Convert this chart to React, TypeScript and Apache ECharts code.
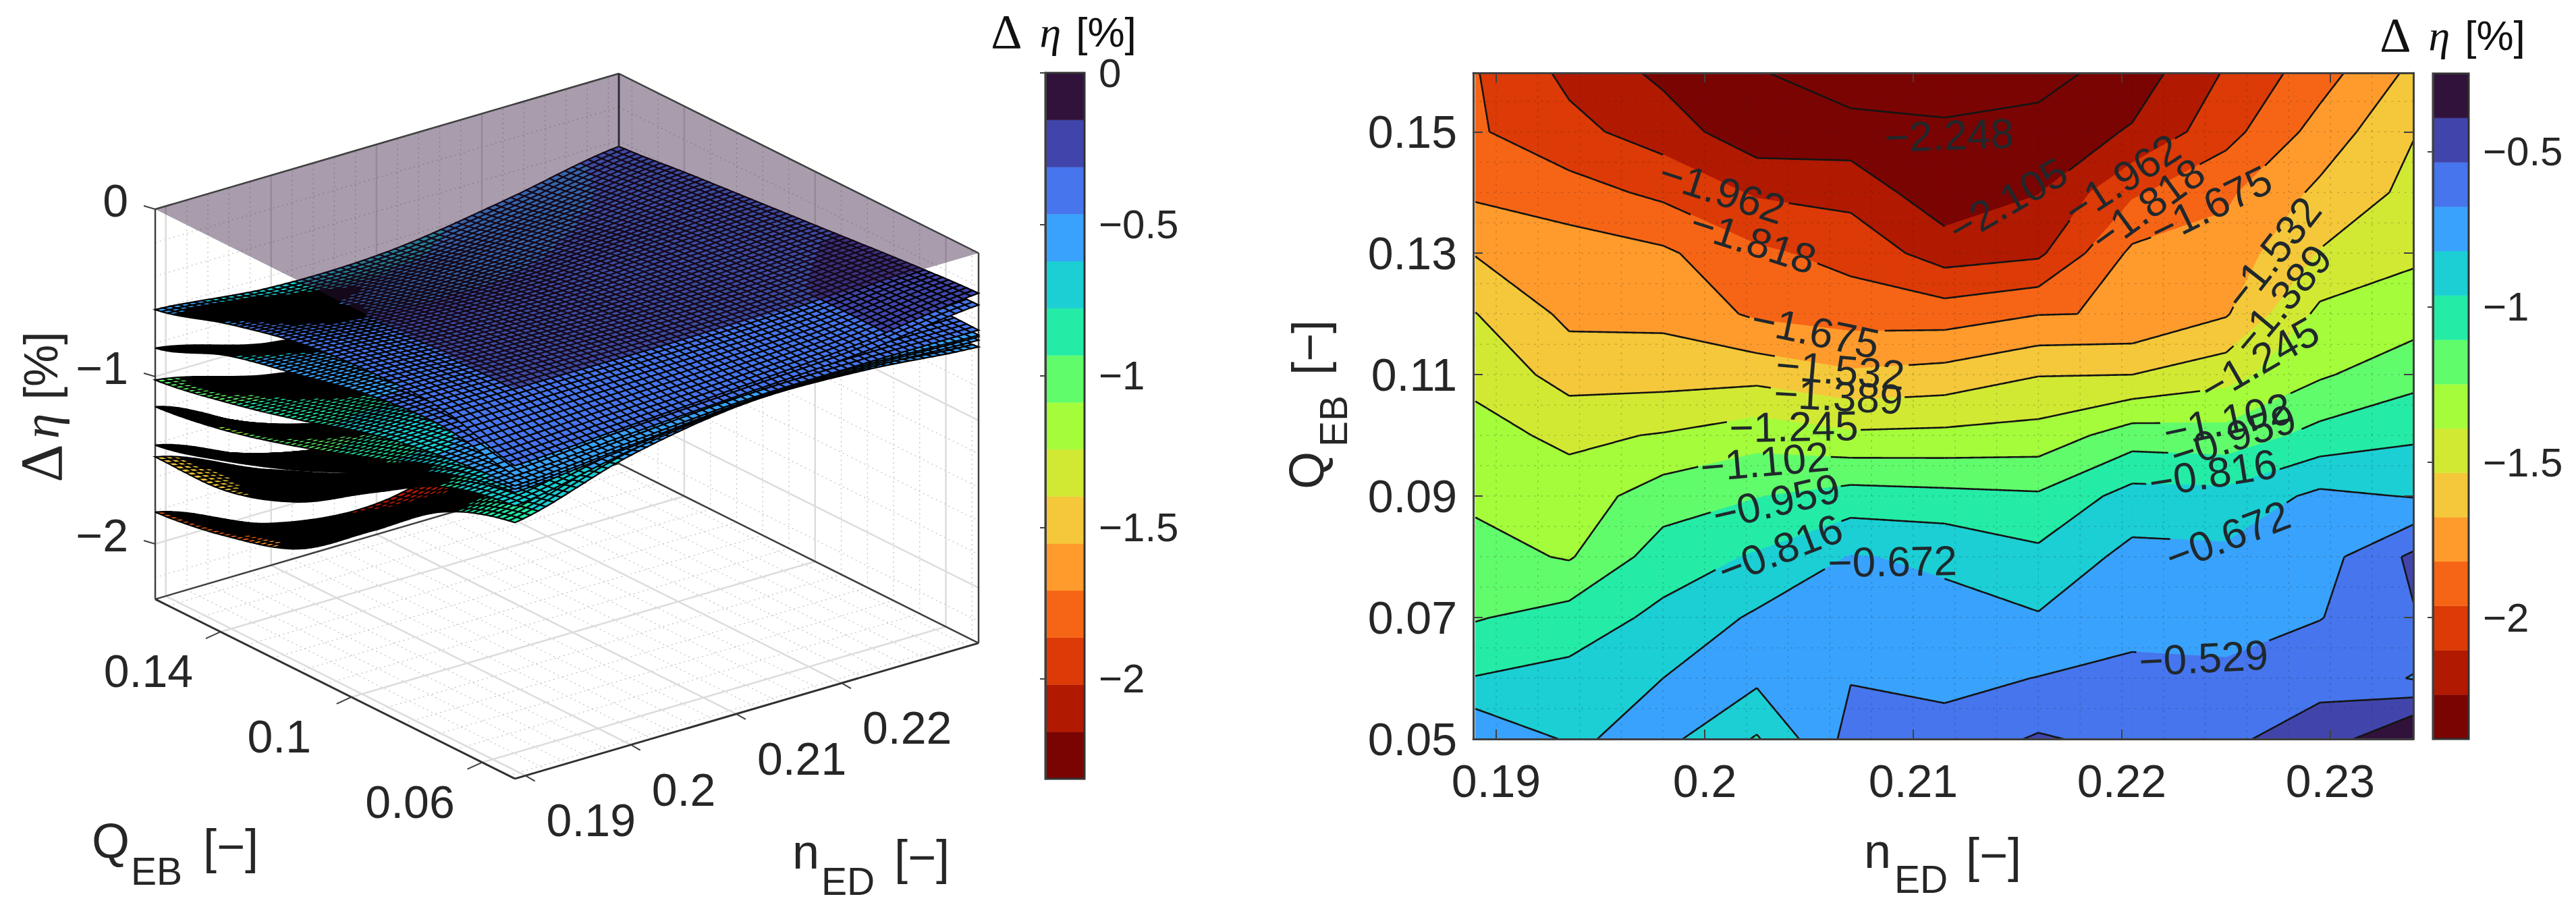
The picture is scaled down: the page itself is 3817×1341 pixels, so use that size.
import React, { useEffect, useRef } from "react";
import * as echarts from "echarts";

const SANS = "'Liberation Sans', Arial, sans-serif";
const SERIF = "'Liberation Serif', serif";
const INK = "#262626";

/* ---------- colours (low to high) ---------- */
const BAND_COLORS = ["#7a0402", "#b11901", "#dc3a06", "#f66516", "#ff9b2c", "#f4c83a", "#d2e934", "#a4fc3b", "#61fc6c", "#24eca6", "#1bcfd4", "#39a2fc", "#4675ed", "#4145ab", "#30123b"];

/* ---------- right panel: contour table ---------- */
const N_ED = [0.189, 0.1935, 0.198, 0.2025, 0.207, 0.2115, 0.216, 0.2205, 0.225, 0.2295, 0.234];
const Q_EB = [0.05, 0.06, 0.07, 0.08, 0.09, 0.1, 0.11, 0.12, 0.13, 0.14, 0.15, 0.16];
/* one list per n_ED column, from Q_EB = 0.05 to 0.16 */
const COL0 = [-0.535, -0.81, -0.97, -1.05, -1.13, -1.2, -1.28, -1.385, -1.54, -1.7, -1.8, -1.81];
const COL1 = [-0.69, -0.77, -0.9, -1.115, -1.18, -1.275, -1.45, -1.565, -1.6, -1.76, -1.92, -2.0];
const COL2 = [-0.63, -0.672, -0.78, -0.89, -1.03, -1.235, -1.45, -1.57, -1.65, -1.85, -2.03, -2.14];
const COL3 = [-0.83, -0.642, -0.65, -0.8, -0.965, -1.16, -1.44, -1.7, -1.79, -1.98, -2.2, -2.24];
const COL4 = [-0.48, -0.535, -0.59, -0.665, -0.9, -1.22, -1.51, -1.74, -1.866, -2.01, -2.19, -2.34];
const COL5 = [-0.47, -0.57, -0.64, -0.69, -0.92, -1.21, -1.48, -1.745, -2.03, -2.2, -2.22, -2.34];
const COL6 = [-0.37, -0.525, -0.66, -0.78, -0.94, -1.19, -1.395, -1.68, -1.99, -2.11, -2.2, -2.3];
const COL7 = [-0.43, -0.49, -0.58, -0.63, -0.76, -1.03, -1.389, -1.668, -1.645, -1.84, -2.09, -2.19];
const COL8 = [-0.4, -0.5, -0.585, -0.64, -0.77, -1.05, -1.3, -1.545, -1.62, -1.7, -1.87, -1.95];
const COL9 = [-0.35, -0.41, -0.535, -0.59, -0.64, -0.91, -1.12, -1.21, -1.38, -1.5, -1.62, -1.74];
const COL10 = [-0.05, -0.54, -0.395, -0.355, -0.68, -0.84, -1.01, -1.17, -1.27, -1.35, -1.395, -1.5];
const COLUMNS = [COL0, COL1, COL2, COL3, COL4, COL5, COL6, COL7, COL8, COL9, COL10];

const LEVELS = [-2.248, -2.105, -1.962, -1.818, -1.675, -1.532, -1.389, -1.245, -1.102, -0.959, -0.816, -0.672, -0.529, -0.386, -0.243];
const BAND_EDGES = LEVELS.slice(1);

const LABEL_LEVEL = [-2.248, -2.105, -1.962, -1.818, -1.675, -1.532, -1.389, -1.245, -1.102, -0.959, -0.816, -0.672, -1.962, -1.818, -1.675, -1.532, -1.389, -1.245, -1.102, -0.959, -0.816, -0.672, -0.529];
const LABEL_N = [0.21172, 0.21453, 0.20084, 0.20233, 0.20531, 0.2065, 0.20641, 0.20427, 0.20288, 0.20343, 0.20362, 0.209, 0.22, 0.22123, 0.22427, 0.22722, 0.22767, 0.2266, 0.22505, 0.22534, 0.22437, 0.22508, 0.22392];
const LABEL_Q = [0.14944, 0.13867, 0.14022, 0.132, 0.11711, 0.11078, 0.10644, 0.10144, 0.09567, 0.08911, 0.08122, 0.07922, 0.14222, 0.13789, 0.13789, 0.13, 0.12233, 0.11244, 0.10256, 0.09978, 0.09378, 0.08344, 0.06333];
const LABEL_ROT = [2, 30, -18, -18, -12, -5, -3, 1, 5, 13, 21, 1, 33, 36, 26, 52, 50, 30, 12, 18, 9, 21, 3];

const X_TICKS = [0.19, 0.2, 0.21, 0.22, 0.23];
const Y_TICKS = [0.05, 0.07, 0.09, 0.11, 0.13, 0.15];
const BAR_RIGHT_TICKS = [-0.5, -1, -1.5, -2];
const BAR_LEFT_TICKS = [0, -0.5, -1, -1.5, -2];
const BAR_RIGHT_RANGE = [-2.391, -0.248];
const BAR_LEFT_RANGE = [-2.33, 0];

/* ---------- left panel: surfaces, rows from Q_EB high to low, columns from n_ED low to high ---------- */
const S1 = [
  [-0.6, -0.67, -0.66, -0.56, -0.435],
  [-0.47, -0.54, -0.54, -0.47, -0.39],
  [-0.37, -0.42, -0.43, -0.39, -0.35],
  [-0.33, -0.36, -0.37, -0.35, -0.31],
  [-0.34, -0.34, -0.34, -0.32, -0.27],
  [-0.46, -0.42, -0.38, -0.33, -0.24],
];
const S2 = [
  [-0.83, -1.0, -1.02, -0.86, -0.62],
  [-0.66, -0.74, -0.75, -0.66, -0.5],
  [-0.56, -0.57, -0.57, -0.51, -0.43],
  [-0.47, -0.46, -0.45, -0.42, -0.37],
  [-0.44, -0.41, -0.4, -0.37, -0.33],
  [-0.52, -0.47, -0.43, -0.39, -0.31],
];
const S3 = [
  [-1.02, -1.19, -1.25, -1.05, -0.8],
  [-0.94, -1.0, -1.0, -0.85, -0.68],
  [-0.83, -0.82, -0.78, -0.68, -0.58],
  [-0.7, -0.65, -0.6, -0.55, -0.5],
  [-0.62, -0.54, -0.49, -0.47, -0.46],
  [-0.58, -0.52, -0.47, -0.46, -0.46],
];
const S4 = [
  [-1.18, -1.5, -1.58, -1.3, -1.0],
  [-1.11, -1.25, -1.28, -1.05, -0.82],
  [-0.99, -0.98, -0.95, -0.82, -0.68],
  [-0.84, -0.75, -0.68, -0.62, -0.56],
  [-0.68, -0.58, -0.52, -0.5, -0.49],
  [-0.6, -0.54, -0.48, -0.47, -0.49],
];
const S5 = [
  [-1.41, -1.68, -1.76, -1.5, -1.15],
  [-1.29, -1.4, -1.42, -1.2, -0.95],
  [-1.13, -1.08, -1.02, -0.9, -0.75],
  [-0.93, -0.82, -0.74, -0.68, -0.6],
  [-0.72, -0.6, -0.54, -0.52, -0.5],
  [-0.62, -0.55, -0.485, -0.48, -0.5],
];
const S6 = [
  [-1.48, -1.76, -1.94, -1.7, -1.35],
  [-1.47, -1.6, -1.62, -1.42, -1.12],
  [-1.32, -1.28, -1.22, -1.08, -0.9],
  [-1.05, -0.95, -0.85, -0.78, -0.7],
  [-0.8, -0.68, -0.6, -0.56, -0.55],
  [-0.7, -0.57, -0.488, -0.49, -0.52],
];
const S7 = [
  [-1.81, -2.08, -2.14, -1.9, -1.55],
  [-1.74, -1.85, -1.9, -1.65, -1.3],
  [-1.6, -1.55, -1.5, -1.3, -1.05],
  [-1.28, -1.15, -1.05, -0.95, -0.82],
  [-0.95, -0.82, -0.72, -0.68, -0.66],
  [-0.8, -0.6, -0.49, -0.5, -0.56],
];
const SURFACES_LOW_FIRST = [S7, S6, S5, S4, S3, S2, S1];

const N_RANGE = [0.189, 0.233];
const Q_RANGE = [0.05, 0.16];
const Z_MIN = -2.33;
const N3_TICKS = [0.19, 0.2, 0.21, 0.22];
const Q3_TICKS = [0.06, 0.1, 0.14];
const Z3_TICKS = [0, -1, -2];
const MESH = 60;

function project(n: number, q: number, z: number): [number, number] {
  const u = (n - N_RANGE[0]) / (N_RANGE[1] - N_RANGE[0]);
  const v = (Q_RANGE[1] - q) / (Q_RANGE[1] - Q_RANGE[0]);
  return [230 + 533 * v + 687 * u, 310 + 266 * v - 201 * u - 248 * z];
}

function catmull(a: number, b: number, c: number, d: number, t: number) {
  return 0.5 * (2 * b + (c - a) * t + (2 * a - 5 * b + 4 * c - d) * t * t + (3 * b - a - 3 * c + d) * t * t * t);
}
function sample(list: number[], f: number) {
  const m = list.length - 1;
  const p = Math.min(m - 1e-9, Math.max(0, f * m));
  const i = Math.floor(p);
  const g = (k: number) => list[Math.max(0, Math.min(m, k))];
  return catmull(g(i - 1), g(i), g(i + 1), g(i + 2), p - i);
}
function leftColor(z: number) {
  const i = Math.floor((z - Z_MIN) / (-Z_MIN / 15));
  return BAND_COLORS[Math.max(0, Math.min(13, i))];
}

function line(a: number[], b: number[], stroke: string, lineWidth: number, lineDash?: number[]) {
  return { type: "line", shape: { x1: a[0], y1: a[1], x2: b[0], y2: b[1] }, style: { stroke, lineWidth, lineDash, fill: null }, silent: true };
}
function txt(text: string, x: number, y: number, font: string, align = "center", rot = 0, fill = INK) {
  return { type: "text", x, y, rotation: (rot * Math.PI) / 180, style: { text, font, fill, textAlign: align, textVerticalAlign: "middle" }, silent: true };
}

function range(a: number, b: number, step: number) {
  const r: number[] = [];
  for (let k = 0; a + k * step <= b + 1e-9; k++) r.push(+(a + k * step).toFixed(4));
  return r;
}

/* left panel: box walls and floor grid */
function renderWalls() {
  const out: any[] = [];
  const [n0, n1] = N_RANGE;
  const [q0, q1] = Q_RANGE;
  const minorC = "#c4c4c4";
  const majorC = "#dcdcdc";
  range(0.19, n1, 0.002).forEach((n) => {
    out.push(line(project(n, q0, Z_MIN), project(n, q1, Z_MIN), minorC, 1.3, [2, 5]));
    out.push(line(project(n, q1, Z_MIN), project(n, q1, 0), minorC, 1.3, [2, 5]));
  });
  range(0.052, q1, 0.008).forEach((q) => {
    out.push(line(project(n0, q, Z_MIN), project(n1, q, Z_MIN), minorC, 1.3, [2, 5]));
    out.push(line(project(n1, q, Z_MIN), project(n1, q, 0), minorC, 1.3, [2, 5]));
  });
  range(-2.2, 0, 0.2).forEach((z) => {
    out.push(line(project(n0, q1, z), project(n1, q1, z), minorC, 1.3, [2, 5]));
    out.push(line(project(n1, q1, z), project(n1, q0, z), minorC, 1.3, [2, 5]));
  });
  N3_TICKS.forEach((n) => {
    out.push(line(project(n, q0, Z_MIN), project(n, q1, Z_MIN), majorC, 2.5));
    out.push(line(project(n, q1, Z_MIN), project(n, q1, 0), majorC, 2.5));
  });
  Q3_TICKS.forEach((q) => {
    out.push(line(project(n0, q, Z_MIN), project(n1, q, Z_MIN), majorC, 2.5));
    out.push(line(project(n1, q, Z_MIN), project(n1, q, 0), majorC, 2.5));
  });
  Z3_TICKS.forEach((z) => {
    out.push(line(project(n0, q1, z), project(n1, q1, z), majorC, 2.5));
    out.push(line(project(n1, q1, z), project(n1, q0, z), majorC, 2.5));
  });
  const E = "#404040";
  out.push(line(project(n0, q1, Z_MIN), project(n1, q1, Z_MIN), E, 2.5));
  out.push(line(project(n1, q1, Z_MIN), project(n1, q0, Z_MIN), E, 2.5));
  out.push(line(project(n1, q1, Z_MIN), project(n1, q1, 0), E, 2.5));
  out.push(line(project(n0, q1, Z_MIN), project(n0, q1, 0), E, 2.5));
  out.push(line(project(n1, q0, Z_MIN), project(n1, q0, 0), E, 2.5));
  return { type: "group", children: out };
}

function renderSurface(params: any) {
  const table = SURFACES_LOW_FIRST[params.dataIndex];
  const rows: number[][] = table.map((r) => {
    const o: number[] = [];
    for (let i = 0; i <= MESH; i++) o.push(sample(r, i / MESH));
    return o;
  });
  const zs: number[][] = [];
  for (let j = 0; j <= MESH; j++) {
    const o: number[] = [];
    for (let i = 0; i <= MESH; i++) o.push(sample(rows.map((r) => r[i]), j / MESH));
    zs.push(o);
  }
  const [n0, n1] = N_RANGE;
  const [q0, q1] = Q_RANGE;
  const pts = zs.map((r, j) => r.map((z, i) => project(n0 + ((n1 - n0) * i) / MESH, q1 - ((q1 - q0) * j) / MESH, z)));
  const kids: any[] = [];
  for (let j = 0; j < MESH; j++) {
    for (let i = MESH - 1; i >= 0; i--) {
      const z = (zs[j][i] + zs[j][i + 1] + zs[j + 1][i] + zs[j + 1][i + 1]) / 4;
      const a = pts[j][i];
      const b = pts[j][i + 1];
      const c = pts[j + 1][i + 1];
      const d = pts[j + 1][i];
      const area = Math.abs((c[0] - a[0]) * (d[1] - b[1]) - (c[1] - a[1]) * (d[0] - b[0])) / 2;
      kids.push({
        type: "polygon",
        shape: { points: [a, b, c, d].map((p) => [+p[0].toFixed(1), +p[1].toFixed(1)]) },
        style: { fill: area < 44 ? "#000" : leftColor(z), stroke: "#000", lineWidth: 2.2 },
        silent: true,
      });
    }
  }
  return { type: "group", children: kids };
}

function renderLid() {
  const [n0, n1] = N_RANGE;
  const [q0, q1] = Q_RANGE;
  const E = "#404040";
  const L = project(n0, q1, 0);
  const B = project(n1, q1, 0);
  const R = project(n1, q0, 0);
  const F = project(n0, q0, 0);
  const kids: any[] = [
    { type: "polygon", shape: { points: [L, B, R, F] }, style: { fill: "#30123b", opacity: 0.42 }, silent: true },
    line(L, B, E, 2.5),
    line(B, R, E, 2.5),
    line(B, project(n1, q1, -0.44), "#2a2a35", 2.5),
  ];
  const fl = project(n0, q1, Z_MIN);
  const ff = project(n0, q0, Z_MIN);
  const fr = project(n1, q0, Z_MIN);
  kids.push(line(fl, ff, "#303030", 3));
  kids.push(line(ff, fr, "#303030", 3));
  Q3_TICKS.forEach((q) => {
    const p = project(n0, q, Z_MIN);
    kids.push(line(p, [p[0] - 22, p[1] + 10], E, 2));
    kids.push(txt(String(q), p[0] - 107, p[1] + 58, `68px ${SANS}`));
  });
  N3_TICKS.forEach((n) => {
    const p = project(n, q0, Z_MIN);
    kids.push(line(p, [p[0] + 14, p[1] + 8], E, 2));
    kids.push(txt(String(n), p[0] + 31, p[1] + 66, `68px ${SANS}`, "left"));
  });
  Z3_TICKS.forEach((z) => {
    const p = project(n0, q1, z);
    kids.push(line(p, [p[0] - 17, p[1] - 5], E, 2));
    kids.push(txt(String(z).replace("-", "\u2212"), 190, p[1] - 13, `68px ${SANS}`, "right"));
  });
  return { type: "group", children: kids };
}

/* right panel helpers */
function cellCorners(api: any) {
  const i = api.value(3);
  const j = api.value(4);
  if (i >= N_ED.length - 1 || j >= Q_EB.length - 1) return null;
  const c = [
    [i, j],
    [i + 1, j],
    [i + 1, j + 1],
    [i, j + 1],
  ];
  return c.map(([a, b]) => {
    const p = api.coord([N_ED[a], Q_EB[b]]);
    return [p[0], p[1], COLUMNS[a][b]];
  });
}
function clipAbove(poly: number[][], t: number, keepAbove: boolean) {
  const out: number[][] = [];
  for (let k = 0; k < poly.length; k++) {
    const a = poly[k];
    const b = poly[(k + 1) % poly.length];
    const ia = keepAbove ? a[2] >= t : a[2] <= t;
    const ib = keepAbove ? b[2] >= t : b[2] <= t;
    if (ia) out.push(a);
    if (ia !== ib) {
      const f = (t - a[2]) / (b[2] - a[2]);
      out.push([a[0] + f * (b[0] - a[0]), a[1] + f * (b[1] - a[1]), t]);
    }
  }
  return out;
}
function renderCellFill(_p: any, api: any) {
  const corners = cellCorners(api);
  if (!corners) return { type: "group", children: [] };
  const kids: any[] = [];
  BAND_COLORS.forEach((color, b) => {
    let poly = corners;
    if (b > 0) poly = clipAbove(poly, BAND_EDGES[b - 1], true);
    if (poly.length && b < BAND_EDGES.length) poly = clipAbove(poly, BAND_EDGES[b], false);
    if (poly.length >= 3) {
      kids.push({ type: "polygon", shape: { points: poly.map((p) => [p[0], p[1]]) }, style: { fill: color, stroke: color, lineWidth: 1 }, silent: true });
    }
  });
  return { type: "group", children: kids };
}
const LABEL_FONT = 62;
function labelBoxes(api: any) {
  return LABEL_LEVEL.map((lv, k) => {
    const p = api.coord([LABEL_N[k], LABEL_Q[k]]);
    return { lv, x: p[0], y: p[1], a: (LABEL_ROT[k] * Math.PI) / 180, hw: (3.09 * LABEL_FONT) / 2 + 2, hh: LABEL_FONT * 0.42 };
  });
}
function isHidden(boxes: any[], lv: number, x: number, y: number) {
  return boxes.some((b) => {
    if (b.lv !== lv) return false;
    const dx = x - b.x;
    const dy = y - b.y;
    const along = dx * Math.cos(b.a) - dy * Math.sin(b.a);
    const across = dx * Math.sin(b.a) + dy * Math.cos(b.a);
    return Math.abs(along) < b.hw && Math.abs(across) < b.hh;
  });
}
function renderCellLines(_p: any, api: any) {
  const corners = cellCorners(api);
  if (!corners) return { type: "group", children: [] };
  const boxes = labelBoxes(api);
  const kids: any[] = [];
  const stroke = { stroke: "#141414", lineWidth: 2.6, fill: null };
  LEVELS.forEach((lv) => {
    const cross: number[][] = [];
    for (let k = 0; k < 4; k++) {
      const a = corners[k];
      const b = corners[(k + 1) % 4];
      if (a[2] < lv !== b[2] < lv) {
        const f = (lv - a[2]) / (b[2] - a[2]);
        cross.push([a[0] + f * (b[0] - a[0]), a[1] + f * (b[1] - a[1])]);
      }
    }
    const segs: number[][][] = [];
    if (cross.length === 2) segs.push([cross[0], cross[1]]);
    if (cross.length === 4) {
      const mean = corners.reduce((s, c) => s + c[2], 0) / 4;
      const first = corners[0][2] < lv === mean < lv;
      if (first) {
        segs.push([cross[0], cross[1]], [cross[2], cross[3]]);
      } else {
        segs.push([cross[3], cross[0]], [cross[1], cross[2]]);
      }
    }
    segs.forEach(([a, b]) => {
      const steps = Math.max(1, Math.ceil(Math.hypot(b[0] - a[0], b[1] - a[1]) / 3));
      let run: number[][] = [];
      for (let s = 0; s <= steps; s++) {
        const x = a[0] + ((b[0] - a[0]) * s) / steps;
        const y = a[1] + ((b[1] - a[1]) * s) / steps;
        if (isHidden(boxes, lv, x, y)) {
          if (run.length > 1) kids.push({ type: "polyline", shape: { points: run }, style: stroke, silent: true });
          run = [];
        } else {
          run.push([x, y]);
        }
      }
      if (run.length > 1) kids.push({ type: "polyline", shape: { points: run }, style: stroke, silent: true });
    });
  });
  return { type: "group", children: kids };
}
function renderMinorGrid(_p: any, api: any) {
  const kids: any[] = [];
  const C = "rgba(30,30,30,0.2)";
  const yTop = 0.1597;
  range(0.19, 0.234, 0.002).forEach((n) => kids.push(line(api.coord([n, 0.05]), api.coord([n, yTop]), C, 1.5, [3, 7])));
  range(0.055, yTop, 0.005).forEach((q) => kids.push(line(api.coord([0.1889, q]), api.coord([0.234, q]), C, 1.5, [3, 7])));
  return { type: "group", children: kids };
}
function renderLabels(_p: any, api: any) {
  const kids = LABEL_LEVEL.map((lv, k) => {
    const p = api.coord([LABEL_N[k], LABEL_Q[k]]);
    return txt(String(lv).replace("-", "\u2212"), p[0], p[1], `${LABEL_FONT}px ${SANS}`, "center", LABEL_ROT[k], "#20282c");
  });
  return { type: "group", children: kids };
}
function renderBand(_p: any, api: any) {
  const a = api.coord([0, api.value(1)]);
  const b = api.coord([1, api.value(0)]);
  return { type: "rect", shape: { x: a[0], y: a[1], width: b[0] - a[0], height: b[1] - a[1] }, style: { fill: BAND_COLORS[api.value(2)], stroke: BAND_COLORS[api.value(2)], lineWidth: 0.5 }, silent: true };
}
function bandData(r: number[]) {
  const s = (r[1] - r[0]) / 15;
  return BAND_COLORS.map((_, i) => [r[0] + i * s, r[0] + (i + 1) * s, i]);
}

function titleText(x: number, y: number) {
  return {
    type: "text",
    x,
    y,
    silent: true,
    style: {
      text: "{d|\u0394}{e|\u03b7}{p|[%]}",
      textAlign: "center",
      textVerticalAlign: "middle",
      rich: {
        d: { font: `72px ${SERIF}`, fill: "#111", padding: [0, 26, 0, 0], lineHeight: 56 },
        e: { font: `italic 64px ${SERIF}`, fill: "#111", padding: [0, 22, 0, 0], lineHeight: 56 },
        p: { font: `62px ${SANS}`, fill: "#111", lineHeight: 56 },
      },
    },
  };
}
function plain(text: string, x: number, y: number, font: string, rot = 0, align = "left") {
  return { type: "text", x, y, rotation: (rot * Math.PI) / 180, silent: true, style: { text, font, fill: INK, textAlign: align, textVerticalAlign: "middle" } };
}

function buildOption() {
  const axisLine = { show: true, lineStyle: { color: "#404040", width: 3 } };
  const tick = (values: number[], length = 14) => ({ show: true, inside: true, length, customValues: values, lineStyle: { color: "#404040", width: 2 } });
  const cellData: number[][] = [];
  N_ED.forEach((n, i) => Q_EB.forEach((q, j) => cellData.push([n, q, COLUMNS[i][j], i, j])));
  const minus = (v: number) => String(v).replace("-", "\u2212");

  const xBase = { type: "value", gridIndex: 0, min: 0.1889, max: 0.23398, splitLine: { show: false }, axisLine, z: 20 };
  const yBase = { type: "value", gridIndex: 0, min: 0.05, max: 0.1597, splitLine: { show: false }, axisLine, z: 20 };
  const hiddenX = (g: number) => ({ type: "value", gridIndex: g, min: 0, max: 1, show: false });
  const barY = (g: number, r: number[], ticks: number[]) => ({
    type: "value",
    gridIndex: g,
    min: r[0],
    max: r[1],
    position: "right",
    z: 20,
    splitLine: { show: false },
    axisLine,
    axisTick: tick(ticks, 8),
    axisLabel: { customValues: ticks, formatter: minus, margin: 21, fontFamily: SANS, fontSize: 60, color: INK, align: "left", lineHeight: 46, padding: [10, 0, 0, 0] },
  });

  return {
    animation: false,
    backgroundColor: "#ffffff",
    grid: [
      { left: 2183, top: 108, width: 1393, height: 987 },
      { left: 3605, top: 109, width: 53, height: 986 },
      { left: 1549, top: 108, width: 58, height: 1046 },
    ],
    xAxis: [
      { ...xBase, position: "bottom", axisTick: tick(X_TICKS), axisLabel: { customValues: X_TICKS, formatter: (v: number) => String(v), margin: 28, fontFamily: SANS, fontSize: 68, color: INK } },
      { ...xBase, position: "top", axisTick: tick(X_TICKS), axisLabel: { show: false } },
      hiddenX(1),
      hiddenX(2),
    ],
    yAxis: [
      { ...yBase, position: "left", axisTick: tick(Y_TICKS), axisLabel: { customValues: Y_TICKS, formatter: (v: number) => v.toFixed(2), margin: 24, fontFamily: SANS, fontSize: 68, color: INK, padding: [8, 0, 0, 0] } },
      { ...yBase, position: "right", axisTick: tick(Y_TICKS), axisLabel: { show: false } },
      barY(1, BAR_RIGHT_RANGE, BAR_RIGHT_TICKS),
      barY(2, BAR_LEFT_RANGE, BAR_LEFT_TICKS),
    ],
    series: [
      { type: "custom", coordinateSystem: "none", silent: true, data: [[0]], renderItem: renderWalls, z: 1 },
      { type: "custom", coordinateSystem: "none", silent: true, data: SURFACES_LOW_FIRST.map((_, i) => [i]), renderItem: renderSurface, z: 2 },
      { type: "custom", coordinateSystem: "none", silent: true, data: [[0]], renderItem: renderLid, z: 3 },
      { type: "custom", xAxisIndex: 0, yAxisIndex: 0, clip: true, silent: true, data: cellData, renderItem: renderCellFill, z: 2 },
      { type: "custom", xAxisIndex: 0, yAxisIndex: 0, clip: true, silent: true, data: cellData, renderItem: renderCellLines, z: 3 },
      { type: "custom", xAxisIndex: 0, yAxisIndex: 0, clip: true, silent: true, data: [[0.2, 0.1]], renderItem: renderMinorGrid, z: 4 },
      { type: "custom", xAxisIndex: 0, yAxisIndex: 0, clip: true, silent: true, data: [[0.2, 0.1]], renderItem: renderLabels, z: 5 },
      { type: "custom", xAxisIndex: 2, yAxisIndex: 2, silent: true, data: bandData(BAR_RIGHT_RANGE), renderItem: renderBand, z: 2 },
      { type: "custom", xAxisIndex: 3, yAxisIndex: 3, silent: true, data: bandData(BAR_LEFT_RANGE), renderItem: renderBand, z: 2 },
    ],
    graphic: [
      titleText(1576, 47),
      titleText(3634, 52),
      { type: "rect", silent: true, z: 10, shape: { x: 1549, y: 108, width: 58, height: 1046 }, style: { fill: "none", stroke: "#333", lineWidth: 3 } },
      { type: "rect", silent: true, z: 10, shape: { x: 3605, y: 109, width: 53, height: 986 }, style: { fill: "none", stroke: "#333", lineWidth: 3 } },
      {
        type: "text",
        x: 61,
        y: 603,
        rotation: Math.PI / 2,
        silent: true,
        style: {
          text: "{d|\u0394}{e|\u03b7}{p|[%]}",
          textAlign: "center",
          textVerticalAlign: "middle",
          rich: {
            d: { font: `88px ${SERIF}`, fill: INK, padding: [0, 8, 0, 0] },
            e: { font: `italic 76px ${SERIF}`, fill: INK, padding: [0, 20, 0, 0] },
            p: { font: `70px ${SANS}`, fill: INK },
          },
        },
      },
      /* left axis names */
      plain("Q", 136, 1246, `72px ${SANS}`),
      plain("EB", 194, 1291, `57px ${SANS}`),
      plain("[\u2212]", 301, 1254, `72px ${SANS}`),
      plain("n", 1174, 1262, `72px ${SANS}`),
      plain("ED", 1217, 1306, `57px ${SANS}`),
      plain("[\u2212]", 1325, 1270, `72px ${SANS}`),
      /* right axis names */
      plain("n", 2762, 1261, `72px ${SANS}`),
      plain("ED", 2807, 1303, `57px ${SANS}`),
      plain("[\u2212]", 2913, 1267, `72px ${SANS}`),
      plain("Q", 1936, 725, `72px ${SANS}`, 90),
      plain("EB", 1976, 662, `57px ${SANS}`, 90),
      plain("[\u2212]", 1940, 556, `72px ${SANS}`, 90),
    ],
  };
}

export default function App() {
  const ref = useRef<HTMLDivElement>(null);
  useEffect(() => {
    document.body.style.margin = "0";
    const chart = echarts.init(ref.current!, undefined, { renderer: "svg" });
    chart.setOption(buildOption() as any);
    return () => chart.dispose();
  }, []);
  return <div ref={ref} style={{ position: "absolute", left: 0, top: 0, width: 3817, height: 1341, background: "#fff" }} />;
}
